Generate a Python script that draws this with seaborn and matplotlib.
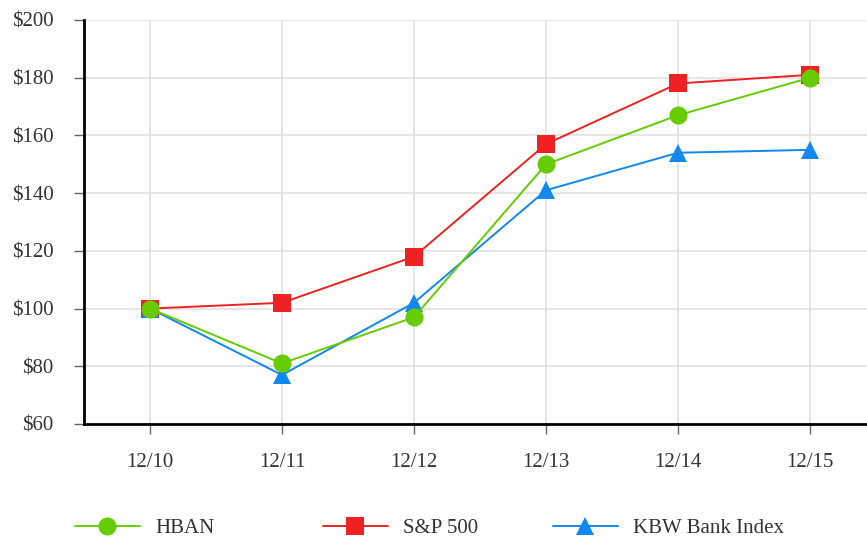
import matplotlib
matplotlib.use("Agg")
import matplotlib.pyplot as plt
import seaborn as sns
import pandas as pd
from matplotlib.lines import Line2D

years = ["12/10", "12/11", "12/12", "12/13", "12/14", "12/15"]
hban = [100, 81, 97, 150, 167, 180]
sp500 = [100, 102, 118, 157, 178, 181]
kbw = [100, 77, 102, 141, 154, 155]
series_names = ["HBAN", "S&P 500", "KBW Bank Index"]
yticks = [60, 80, 100, 120, 140, 160, 180, 200]

colors = {"HBAN": "#66cc00", "S&P 500": "#ee2222", "KBW Bank Index": "#1188ee"}
markers = {"HBAN": "o", "S&P 500": "s", "KBW Bank Index": "^"}
msizes = {"HBAN": 13, "S&P 500": 12.5, "KBW Bank Index": 13}

rows = []
for name, vals in zip(series_names, [hban, sp500, kbw]):
    for i, (yr, v) in enumerate(zip(years, vals)):
        rows.append({"x": i, "year": yr, "value": v, "series": name})
df = pd.DataFrame(rows)

sns.set_theme(style="white")
plt.rcParams["font.family"] = ["Liberation Serif", "DejaVu Serif"]

fig = plt.figure(figsize=(8.67, 5.37), dpi=100)
ax = fig.add_axes([84 / 867, 1 - 424 / 537, 1 - 84 / 867 + 0.0, (424 - 20) / 537])

for name in ["S&P 500", "KBW Bank Index", "HBAN"]:
    sub = df[df["series"] == name]
    sns.lineplot(data=sub, x="x", y="value", ax=ax, color=colors[name],
                 marker=markers[name], markersize=msizes[name],
                 markeredgewidth=0, linewidth=1.4, legend=False, zorder=3)

ax.set_xlim(-0.5, (867 - 150) / 132)
ax.set_ylim(60, 200)
ax.set_xticks(range(len(years)))
ax.set_xticklabels(years)
ax.set_yticks(yticks)
ax.set_yticklabels([f"${t}" for t in yticks])
ax.set_xlabel("")
ax.set_ylabel("")
ax.grid(True, color="#e2e2e2", linewidth=1.2, zorder=0)
ax.set_axisbelow(True)
for s in ["top", "right"]:
    ax.spines[s].set_visible(False)
for s in ["left", "bottom"]:
    ax.spines[s].set_color("black")
    ax.spines[s].set_linewidth(2)
ax.tick_params(axis="both", which="both", direction="out", length=7, width=1,
               color="#666666", labelsize=15, labelcolor="#333333",
               bottom=True, left=True)
ax.tick_params(axis="y", pad=15)
ax.tick_params(axis="x", pad=14)

for name, x0 in zip(series_names, [75, 323, 553]):
    h = Line2D([], [], color=colors[name], marker=markers[name],
               markersize=msizes[name], markeredgewidth=0, linewidth=1.4)
    fig.legend([h], [name], loc="center left",
               bbox_to_anchor=(x0 / 867, 1 - 528 / 537), frameon=False,
               borderpad=0, borderaxespad=0, handlelength=3.1,
               handletextpad=0.75, fontsize=15, labelcolor="#333333")

fig.savefig("out.png", dpi=100)
